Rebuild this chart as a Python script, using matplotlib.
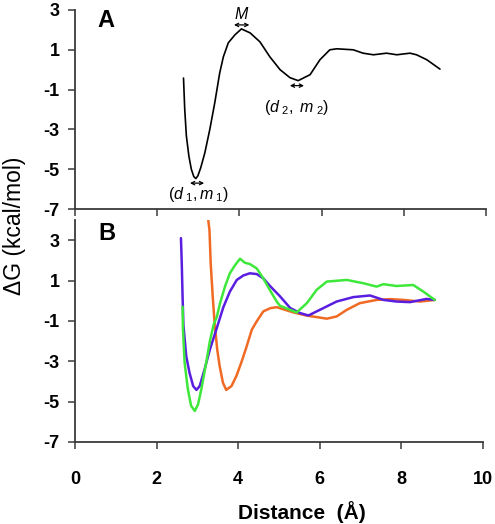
import matplotlib
matplotlib.use("Agg")
import matplotlib.pyplot as plt

plt.rcParams['font.family'] = ['Liberation Sans', 'DejaVu Sans']
plt.rcParams['mathtext.fontset'] = 'custom'
plt.rcParams['mathtext.it'] = 'Liberation Sans:italic'
plt.rcParams['mathtext.rm'] = 'Liberation Sans'

# Panel A: single free-energy profile
a_x = [2.64, 2.67, 2.71, 2.77, 2.83, 2.89, 2.94, 2.99, 3.06, 3.16, 3.28, 3.40, 3.52,
       3.61, 3.73, 3.89, 4.05, 4.26, 4.50, 4.74, 4.99, 5.23, 5.43, 5.72, 5.96, 6.20,
       6.37, 6.77, 7.01, 7.26, 7.58, 7.83, 8.15, 8.31, 8.56, 8.88]
a_y = [-0.42, -2.0, -3.33, -4.33, -5.0, -5.37, -5.47, -5.33, -4.92, -4.17, -3.0, -1.67, -0.17,
       0.65, 1.35, 1.75, 2.05, 1.85, 1.4, 0.65, 0.0, -0.4, -0.55, -0.25, 0.5, 1.0,
       1.05, 1.0, 0.83, 0.75, 0.83, 0.75, 0.83, 0.75, 0.5, 0.03]

# Panel B: three profiles
green_x = [2.64, 2.65, 2.69, 2.77, 2.85, 2.94, 3.02, 3.10, 3.22, 3.31, 3.40, 3.48, 3.56,
           3.68, 3.80, 3.93, 4.05, 4.17, 4.29, 4.46, 4.62, 4.79, 4.95, 5.03, 5.28, 5.44,
           5.69, 5.93, 6.18, 6.67, 7.07, 7.40, 7.57, 7.89, 8.30, 8.55, 8.83]
green_y = [-0.3, -1.43, -3.07, -4.39, -5.21, -5.46, -5.13, -4.39, -3.07, -2.0, -1.2, -0.8, -0.12,
           0.7, 1.36, 1.77, 2.08, 1.88, 1.82, 1.6, 1.11, 0.5, -0.04, -0.25, -0.45, -0.58,
           -0.12, 0.54, 0.95, 1.03, 0.87, 0.7, 0.82, 0.73, 0.78, 0.45, 0.04]
purple_x = [2.60, 2.62, 2.64, 2.66, 2.73, 2.81, 2.90, 2.98, 3.06, 3.18, 3.31, 3.48, 3.64,
            3.80, 3.97, 4.13, 4.29, 4.46, 4.62, 4.79, 5.03, 5.28, 5.52, 5.73, 6.01, 6.42,
            6.83, 7.24, 7.57, 7.89, 8.22, 8.63, 8.83]
purple_y = [3.1, 1.85, 0.2, -1.2, -2.75, -3.57, -4.23, -4.42, -4.23, -3.40, -2.42, -1.35, -0.32,
            0.45, 1.03, 1.25, 1.36, 1.32, 1.11, 0.72, 0.22, -0.36, -0.61, -0.73, -0.45, -0.04,
            0.18, 0.26, 0.04, -0.04, -0.07, 0.09, 0.04]
orange_x = [3.27, 3.30, 3.33, 3.38, 3.42, 3.45, 3.49, 3.55, 3.63, 3.71, 3.84, 3.96, 4.08,
            4.20, 4.34, 4.46, 4.62, 4.79, 4.95, 5.03, 5.36, 5.69, 5.93, 6.18, 6.42, 6.67,
            6.99, 7.40, 7.73, 8.06, 8.47, 8.83]
orange_y = [3.99, 3.5, 1.85, 0.2, -0.94, -1.6, -2.42, -3.24, -4.06, -4.42, -4.23, -3.73, -3.07,
            -2.34, -1.43, -1.02, -0.53, -0.37, -0.32, -0.37, -0.58, -0.74, -0.81, -0.89, -0.78, -0.45,
            -0.12, 0.04, 0.08, 0.04, -0.04, 0.04]

y_ticks = [3, 1, -1, -3, -5, -7]
x_ticks = [0, 2, 4, 6, 8, 10]

W, H = 495, 524
fig = plt.figure(figsize=(W / 100, H / 100), dpi=100)

def px_axes(l, t, r, b):
    return fig.add_axes([l / W, 1 - b / H, (r - l) / W, (b - t) / H])

axA = px_axes(75, 10, 486, 209)
axB = px_axes(75, 220, 482.5, 442)

spine_c = '#3a3a3a'
for ax in (axA, axB):
    for s in ('top', 'right'):
        ax.spines[s].set_visible(False)
    for s in ('left', 'bottom'):
        ax.spines[s].set_color(spine_c)
        ax.spines[s].set_linewidth(1.3)
    ax.set_xlim(0, 10)
    ax.set_xticks(x_ticks)
    ax.set_yticks(y_ticks)
    ax.set_yticklabels([str(v) for v in y_ticks], fontsize=13, fontweight='bold')
    ax.tick_params(axis='y', length=5, width=1.1, color=spine_c, pad=6)
    ax.tick_params(axis='x', length=5, width=1.1, color=spine_c, pad=16)

axA.set_ylim(-7, 3)
axA.set_xticklabels([])
axB.set_ylim(-7, 4)
axB.set_xticklabels([str(v) for v in x_ticks], fontsize=13, fontweight='bold')

line_kw = dict(solid_joinstyle='round', solid_capstyle='round')
axA.plot(a_x, a_y, color='black', lw=1.2, **line_kw)
axB.plot(orange_x, orange_y, color='#f06a24', lw=1.8, **line_kw)
axB.plot(purple_x, purple_y, color='#5a1ee0', lw=1.8, **line_kw)
axB.plot(green_x, green_y, color='#3ee83a', lw=1.8, **line_kw)

axA.text(0.75, 2.45, 'A', fontsize=17, fontweight='bold', ha='center', va='center')
axB.text(0.78, 3.9, 'B', fontsize=17, fontweight='bold', ha='center', va='top')

arrow_kw = dict(arrowstyle='<->', color='black', lw=0.9, mutation_scale=6)
axA.annotate('', xy=(3.80, 2.25), xytext=(4.31, 2.25), arrowprops=arrow_kw)
axA.text(4.06, 2.78, '$M$', fontsize=11.5, ha='center', va='center')
axA.annotate('', xy=(2.73, -5.7), xytext=(3.21, -5.7), arrowprops=arrow_kw)
axA.text(2.99, -6.25, r'$(d_{\ 1},m_{\ 1})$', fontsize=11.5, ha='center', va='center')
axA.annotate('', xy=(5.16, -0.8), xytext=(5.64, -0.8), arrowprops=arrow_kw)
axA.text(5.38, -1.9, r'$(d_{\ 2},\ m_{\ 2})$', fontsize=11.5, ha='center', va='center')

fig.text(15 / W, 1 - 226 / H, 'ΔG (kcal/mol)', rotation=90, fontsize=16.5,
         ha='center', va='center')
fig.text(302 / W, 1 - 512 / H, 'Distance  (Å)', fontsize=15, fontweight='bold',
         ha='center', va='center')

fig.savefig('out.png', dpi=100)
